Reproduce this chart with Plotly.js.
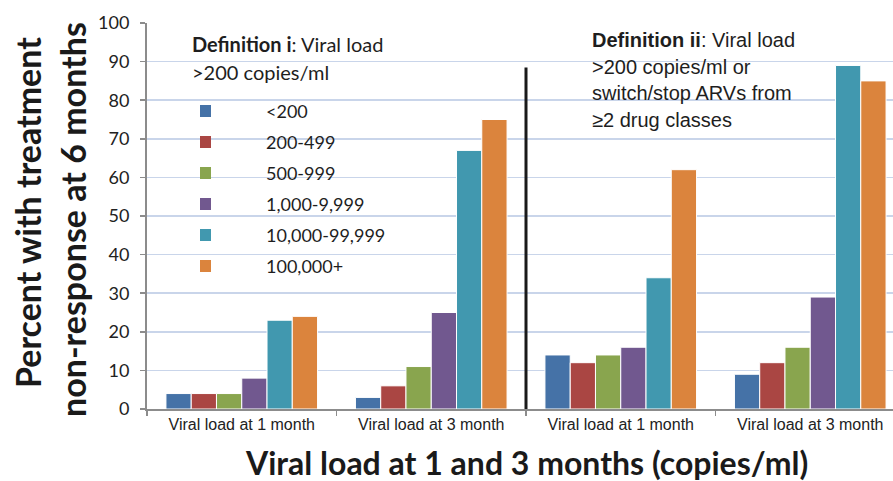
<!DOCTYPE html>
<html>
<head>
<meta charset="utf-8">
<script src="https://cdn.plot.ly/plotly-3.0.1.min.js"></script>
<style>html,body{margin:0;padding:0;background:#fff;}#chart{width:893px;height:481px;}</style>
</head>
<body>
<div id="chart"></div>
<script>
// ---- data ----
const categories = ['Def i, 1 month', 'Def i, 3 month', 'Def ii, 1 month', 'Def ii, 3 month'];
const tickLabels = ['Viral load at 1 month', 'Viral load at 3 month', 'Viral load at 1 month', 'Viral load at 3 month'];
const seriesNames = ['<200', '200-499', '500-999', '1,000-9,999', '10,000-99,999', '100,000+'];
const seriesColors = ['#4572A7', '#AA4643', '#89A54E', '#71588F', '#4198AF', '#DB843D'];
const vl200 = [4, 3, 14, 9];
const vl200_499 = [4, 6, 12, 12];
const vl500_999 = [4, 11, 14, 16];
const vl1000_9999 = [8, 25, 16, 29];
const vl10000_99999 = [23, 67, 34, 89];
const vl100000plus = [24, 75, 62, 85];
const seriesValues = [vl200, vl200_499, vl500_999, vl1000_9999, vl10000_99999, vl100000plus];
const yTicks = [0, 10, 20, 30, 40, 50, 60, 70, 80, 90, 100];

// ---- layout helpers ----
const W = 893, H = 481;
const M = {l: 147, r: 0, t: 23, b: 72};
const pw = W - M.l - M.r, ph = H - M.t - M.b;
const px = x => (x - M.l) / pw;
const py = y => (H - M.b - y) / ph;

const traces = seriesNames.map((n, i) => ({
  type: 'bar',
  name: n,
  x: categories,
  y: seriesValues[i],
  marker: {color: seriesColors[i], line: {color: '#ffffff', width: 1}},
  hoverinfo: 'name+y',
  showlegend: false
}));

const shapes = [
  {type: 'line', xref: 'x', yref: 'y', x0: 1.5, x1: 1.5, y0: 0, y1: 88.5,
   line: {color: '#1a1a1a', width: 3}}
];
const annotations = [];
const legRow0 = 111, legGap = 31;
seriesNames.forEach((n, i) => {
  const cy = legRow0 + i * legGap;
  shapes.push({type: 'rect', xref: 'paper', yref: 'paper',
    x0: px(200), x1: px(211), y0: py(cy - 6), y1: py(cy + 6),
    fillcolor: seriesColors[i], line: {width: 0}});
  annotations.push({xref: 'paper', yref: 'paper', x: px(264), y: py(cy),
    xanchor: 'left', yanchor: 'middle', showarrow: false, text: n.replace('<', '&lt;'),
    font: {family: 'Lato', size: 18, color: '#1e1e1e'}});
});
const defFont1 = {family: 'Lato', size: 20, color: '#1e1e1e'};
const defFont2 = {family: 'Liberation Sans', size: 20, color: '#1e1e1e'};
annotations.push(
  {xref: 'paper', yref: 'paper', x: px(190), y: py(44), xanchor: 'left', yanchor: 'middle', showarrow: false,
   text: '<b>Definition i</b>: Viral load', font: defFont1},
  {xref: 'paper', yref: 'paper', x: px(190), y: py(72), xanchor: 'left', yanchor: 'middle', showarrow: false,
   text: '&gt;200 copies/ml', font: defFont1},
  {xref: 'paper', yref: 'paper', x: px(590), y: py(40), xanchor: 'left', yanchor: 'middle', showarrow: false,
   text: '<b>Definition ii</b>: Viral load', font: defFont2},
  {xref: 'paper', yref: 'paper', x: px(590), y: py(67), xanchor: 'left', yanchor: 'middle', showarrow: false,
   text: '&gt;200 copies/ml or', font: defFont2},
  {xref: 'paper', yref: 'paper', x: px(590), y: py(93), xanchor: 'left', yanchor: 'middle', showarrow: false,
   text: 'switch/stop ARVs from', font: defFont2},
  {xref: 'paper', yref: 'paper', x: px(590), y: py(120), xanchor: 'left', yanchor: 'middle', showarrow: false,
   text: '≥2 drug classes', font: defFont2},
  {xref: 'paper', yref: 'paper', x: px(27), y: py(213), xanchor: 'center', yanchor: 'middle', showarrow: false,
   textangle: -90, text: '<b>Percent with treatment</b>', font: {family: 'Lato', size: 34, color: '#1a1a1a'}},
  {xref: 'paper', yref: 'paper', x: px(72), y: py(220), xanchor: 'center', yanchor: 'middle', showarrow: false,
   textangle: -90, text: '<b>non-response at 6 months</b>', font: {family: 'Lato', size: 34, color: '#1a1a1a'}},
  {xref: 'x', yref: 'paper', x: 1.5, y: py(462), xanchor: 'center', yanchor: 'middle', showarrow: false,
   text: '<b>Viral load at 1 and 3 months (copies/ml)</b>', font: {family: 'Lato', size: 32, color: '#1a1a1a'}}
);

const layout = {
  width: W, height: H,
  margin: M,
  paper_bgcolor: '#ffffff', plot_bgcolor: '#ffffff',
  barmode: 'group', bargap: 0.2, bargroupgap: 0,
  showlegend: false,
  xaxis: {
    type: 'category',
    range: [-0.5, -0.5 + pw / 189.5],
    tickmode: 'array', tickvals: categories, ticktext: tickLabels,
    tickson: 'boundaries', ticks: 'outside', ticklen: 5, tickwidth: 1.5, tickcolor: '#8c8c8c',
    showline: true, linecolor: '#8c8c8c', linewidth: 2,
    showgrid: false, zeroline: false,
    tickfont: {family: 'Liberation Sans', size: 16, color: '#222'},
    fixedrange: true
  },
  yaxis: {
    range: [0, 100],
    tickmode: 'array', tickvals: yTicks,
    ticks: 'outside', ticklen: 5, tickwidth: 1.5, tickcolor: '#8c8c8c',
    ticklabelstandoff: 7,
    showline: true, linecolor: '#8c8c8c', linewidth: 2,
    showgrid: true, gridcolor: '#c9d5ea', gridwidth: 1.5,
    zeroline: false,
    tickfont: {family: 'Lato', size: 18, color: '#222'},
    fixedrange: true
  },
  shapes: shapes,
  annotations: annotations
};

Plotly.newPlot('chart', traces, layout, {displayModeBar: false, staticPlot: true});
</script>
</body>
</html>
